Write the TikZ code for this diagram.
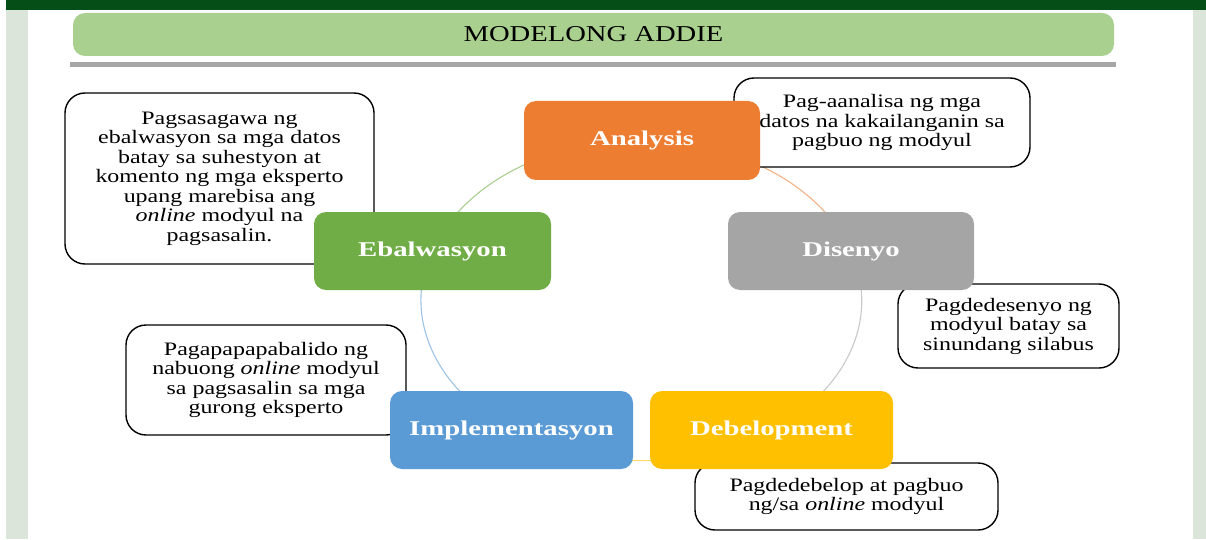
\documentclass[tikz,border=0pt]{standalone}
\usepackage{fontspec}
\setmainfont{Liberation Serif}[FakeStretch=1.26]
\newfontfamily\phasefont{Liberation Serif}[FakeStretch=1.37]
\definecolor{topgreen}{HTML}{054E17}
\definecolor{sidegrey}{HTML}{DCE5DA}
\definecolor{titlegreen}{HTML}{A9D08E}
\definecolor{rulegrey}{HTML}{A6A6A6}
\definecolor{anaorange}{HTML}{ED7D31}
\definecolor{disgrey}{HTML}{A5A5A5}
\definecolor{debyellow}{HTML}{FFC000}
\definecolor{impblue}{HTML}{5B9BD5}
\definecolor{ebagreen}{HTML}{70AD47}
\pgfdeclarelayer{bg}
\pgfdeclarelayer{arcs}
\pgfsetlayers{bg,arcs,main}
\tikzset{
phase/.style={rounded corners=12pt, text=white, inner sep=0pt, align=center,
  font=\phasefont\fontsize{21}{25}\selectfont\bfseries},
descbox/.style={draw=black, line width=1.4pt, fill=white, rounded corners=20pt,
  inner sep=0pt, align=center, font=\fontsize{19}{19.5}\selectfont},
cyclearc/.style={line width=1.1pt}
}

\begin{document}
\begin{tikzpicture}[x=1pt,y=1pt]
%\draw[help lines] (0,0) grid (1206,539);
\useasboundingbox (0,0) rectangle (1206,539);
\begin{pgfonlayer}{bg}
\fill[white] (0,0) rectangle (1206,539);
\fill[sidegrey] (6,0) rectangle (28,529);
\fill[sidegrey] (1193,0) rectangle (1206,529);
\fill[topgreen] (6,529) rectangle (1206,539);
\end{pgfonlayer}

\node[fill=titlegreen, rounded corners=12pt, minimum width=1041pt, minimum height=43pt,
  inner sep=0pt, font=\fontsize{22.7}{25}\selectfont] (title) at (593.5,504.5) {MODELONG ADDIE};
\fill[rulegrey] (70,472) rectangle (1116,477);

% descriptions
\node[descbox, minimum width=296pt, minimum height=89pt] (anad) at (882,416.5)
  {Pag-aanalisa ng mga\\datos na kakailanganin sa\\pagbuo ng modyul};
\node[descbox, minimum width=221pt, minimum height=84pt] (disd) at (1008.5,213)
  {Pagdedesenyo ng\\modyul batay sa\\sinundang silabus};
\node[descbox, minimum width=303pt, minimum height=67pt] (debd) at (846.5,42.5)
  {Pagdedebelop at pagbuo\\ng/sa \textit{online} modyul};
\node[descbox, minimum width=280pt, minimum height=110pt] (impd) at (266,159)
  {Pagapapapabalido ng\\nabuong \textit{online} modyul\\sa pagsasalin sa mga\\gurong eksperto};
\node[descbox, minimum width=309pt, minimum height=171pt] (ebad) at (219.5,360.5)
  {Pagsasagawa ng\\ebalwasyon sa mga datos\\batay sa suhestyon at\\komento ng mga eksperto\\upang marebisa ang\\\textit{online} modyul na\\pagsasalin.};

% phases
\node[phase, fill=anaorange, minimum width=236pt, minimum height=79pt] (ana) at (642,398.5) {Analysis};
\node[phase, fill=disgrey, minimum width=246pt, minimum height=78pt] (dis) at (851,288) {Disenyo};
\node[phase, fill=debyellow, minimum width=243pt, minimum height=78pt] (deb) at (771.5,109) {Debelopment};
\node[phase, fill=impblue, minimum width=243pt, minimum height=78pt] (imp) at (511.5,109) {Implementasyon};
\node[phase, fill=ebagreen, minimum width=237pt, minimum height=78pt] (eba) at (432.5,288) {Ebalwasyon};

\begin{pgfonlayer}{arcs}
\draw[cyclearc, anaorange!60] (ana.center) arc[start angle=90, end angle=18, x radius=219.7pt, y radius=160.6pt];
\draw[cyclearc, disgrey!60] (dis.center) arc[start angle=18, end angle=-54, x radius=219.7pt, y radius=160.6pt];
\draw[cyclearc, debyellow!60] (deb.center) arc[start angle=-54, end angle=-126, x radius=219.7pt, y radius=160.6pt];
\draw[cyclearc, impblue!60] (imp.center) arc[start angle=-126, end angle=-198, x radius=219.7pt, y radius=160.6pt];
\draw[cyclearc, ebagreen!60] (eba.center) arc[start angle=162, end angle=90, x radius=219.7pt, y radius=160.6pt];
\end{pgfonlayer}
\end{tikzpicture}
\end{document}
